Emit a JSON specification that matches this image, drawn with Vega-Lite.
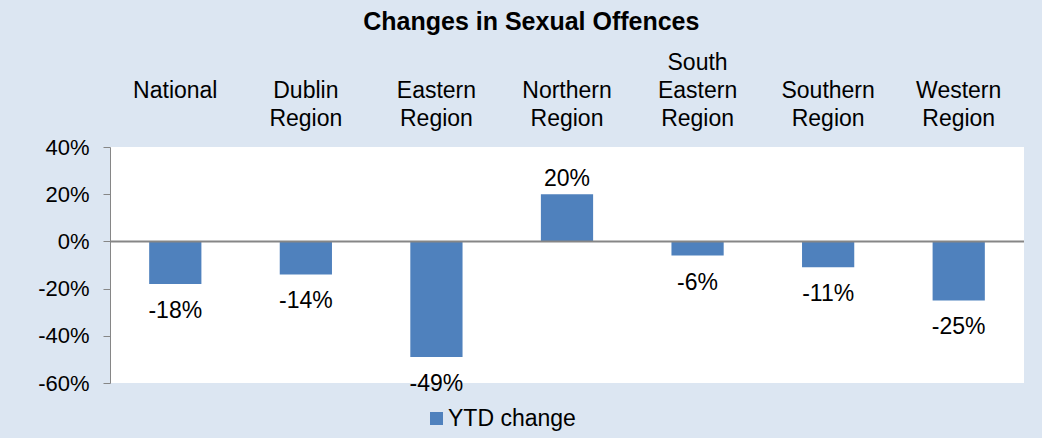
{
  "$schema": "https://vega.github.io/schema/vega-lite/v6.json",
  "width": 914,
  "height": 236,
  "autosize": {"type": "none"},
  "padding": {"left": 110, "top": 147, "right": 18, "bottom": 55},
  "background": "#dce6f2",
  "config": {
    "font": "Liberation Sans",
    "view": {"fill": "white", "stroke": null},
    "locale": {"number": {"decimal": ".", "thousands": ",", "grouping": [3], "currency": ["$", ""], "minus": "-"}}
  },
  "title": {"text": "Changes in Sexual Offences", "fontSize": 25, "fontWeight": "bold", "color": "black", "anchor": "middle", "frame": "bounds", "offset": 16},
  "data": {"values": [
    {"region": "||National", "change": -0.18, "series": "YTD change"},
    {"region": "|Dublin|Region", "change": -0.14, "series": "YTD change"},
    {"region": "|Eastern|Region", "change": -0.49, "series": "YTD change"},
    {"region": "|Northern|Region", "change": 0.20, "series": "YTD change"},
    {"region": "South|Eastern|Region", "change": -0.06, "series": "YTD change"},
    {"region": "|Southern|Region", "change": -0.11, "series": "YTD change"},
    {"region": "|Western|Region", "change": -0.25, "series": "YTD change"}
  ]},
  "layer": [
    {
      "mark": {"type": "bar", "color": "#4f81bd"},
      "encoding": {
        "x": {"field": "region", "type": "nominal", "sort": null,
          "scale": {"paddingInner": 0.6, "paddingOuter": 0.3},
          "axis": {"orient": "top", "title": null, "labelAngle": 0, "labelExpr": "split(datum.label, '|')",
            "labelFontSize": 23, "labelColor": "black", "labelLineHeight": 28, "ticks": false, "domain": false, "labelPadding": 73}},
        "y": {"field": "change", "type": "quantitative", "scale": {"domain": [-0.6, 0.4], "nice": false},
          "axis": {"format": ".0%", "values": [-0.6, -0.4, -0.2, 0, 0.2, 0.4], "title": null, "grid": false,
            "domainColor": "#868686", "tickColor": "#868686", "tickSize": 7, "labelFontSize": 22, "labelColor": "black", "labelPadding": 14}},
        "color": {"field": "series", "type": "nominal", "scale": {"range": ["#4f81bd"]},
          "legend": {"orient": "none", "legendX": 315, "legendY": 260, "title": null, "symbolType": "square", "symbolSize": 169,
            "symbolStrokeWidth": 0, "labelFontSize": 23, "labelColor": "black", "labelOffset": 0}}
      }
    },
    {
      "data": {"values": [{"z": 0}]},
      "mark": {"type": "rule", "color": "#868686", "strokeWidth": 2},
      "encoding": {"y": {"field": "z", "type": "quantitative"}}
    },
    {
      "transform": [{"filter": "datum.change < 0"}],
      "mark": {"type": "text", "fontSize": 23, "color": "black", "baseline": "middle", "dy": 27},
      "encoding": {
        "x": {"field": "region", "type": "nominal", "sort": null},
        "y": {"field": "change", "type": "quantitative"},
        "text": {"field": "change", "type": "quantitative", "format": ".0%"}
      }
    },
    {
      "transform": [{"filter": "datum.change >= 0"}],
      "mark": {"type": "text", "fontSize": 23, "color": "black", "baseline": "middle", "dy": -15},
      "encoding": {
        "x": {"field": "region", "type": "nominal", "sort": null},
        "y": {"field": "change", "type": "quantitative"},
        "text": {"field": "change", "type": "quantitative", "format": ".0%"}
      }
    }
  ]
}
